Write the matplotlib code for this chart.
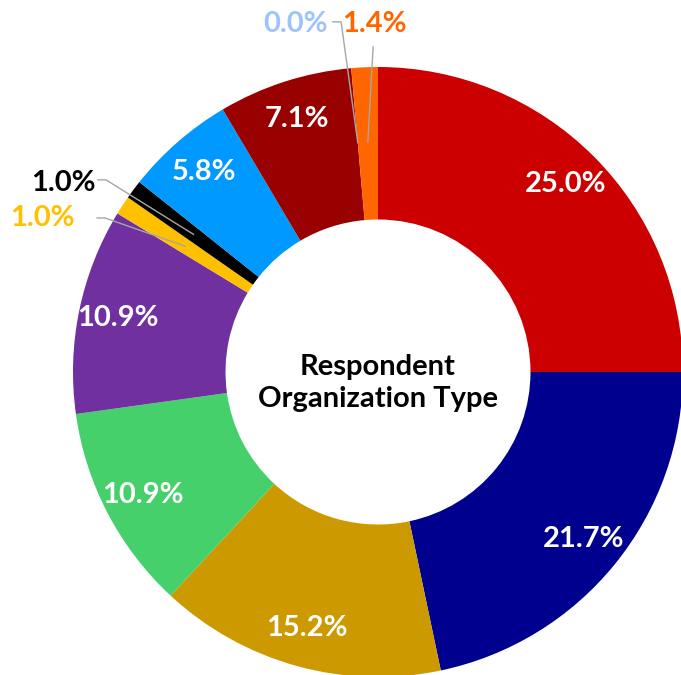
import numpy as np
import matplotlib.pyplot as plt

plt.rcParams['font.family'] = ['Lato', 'DejaVu Sans']

# shares of respondents, clockwise from 12 o'clock
shares = [25.0, 21.7, 15.2, 10.9, 10.9, 1.0, 1.0, 5.8, 7.1, 0.0, 1.4]
labels = ['25.0%', '21.7%', '15.2%', '10.9%', '10.9%', '1.0%', '1.0%',
          '5.8%', '7.1%', '0.0%', '1.4%']
colors = ['#CC0000', '#00008F', '#CC9900', '#46D06C', '#7030A0', '#FFC000',
          '#000000', '#0099FF', '#990000', '#9DC3FF', '#FF6600']
center_title = 'Respondent\nOrganization Type'

# slices too small for an inside label: text position and leader start
outside = {
    5: ((-1.10, 0.505), [(-0.921, 0.505), (-0.895, 0.505)]),
    6: ((-1.033, 0.62), [(-0.918, 0.63), (-0.892, 0.63)]),
    9: ((-0.269, 1.141), [(-0.148, 1.148), (-0.121, 1.148)]),
    10: ((-0.013, 1.141), [(-0.016, 1.066)]),
}

fig = plt.figure(figsize=(6.81, 6.75), dpi=100)
ax = fig.add_axes([0, 0, 1, 1])
ax.pie(shares, colors=colors, startangle=90, counterclock=False, radius=1.0,
       wedgeprops=dict(width=0.5, linewidth=0))

total = sum(shares)
cum = 0.0
for i, v in enumerate(shares):
    mid = (cum + v / 2) / total
    cum += v
    ang = np.pi / 2 - 2 * np.pi * mid
    if i in outside:
        (tx, ty), pts = outside[i]
        pts = pts + [(0.755 * np.cos(ang), 0.755 * np.sin(ang))]
        xs, ys = zip(*pts)
        ax.plot(xs, ys, color='#A6A6A6', lw=1, zorder=3)
        ax.text(tx, ty, labels[i], ha='center', va='center', fontsize=21,
                fontweight='bold', color=colors[i])
    else:
        r = 0.87
        ax.text(r * np.cos(ang), r * np.sin(ang), labels[i], ha='center',
                va='center', fontsize=21, fontweight='bold', color='white')

ax.text(0, -0.035, center_title, ha='center', va='center', fontsize=21,
        fontweight='bold', color='black', linespacing=1.3)

ax.set_xlim(-378 / 305, 303 / 305)
ax.set_ylim(-303 / 305, 372 / 305)
ax.set_aspect('auto')
ax.axis('off')

fig.savefig('out.png', dpi=100)
